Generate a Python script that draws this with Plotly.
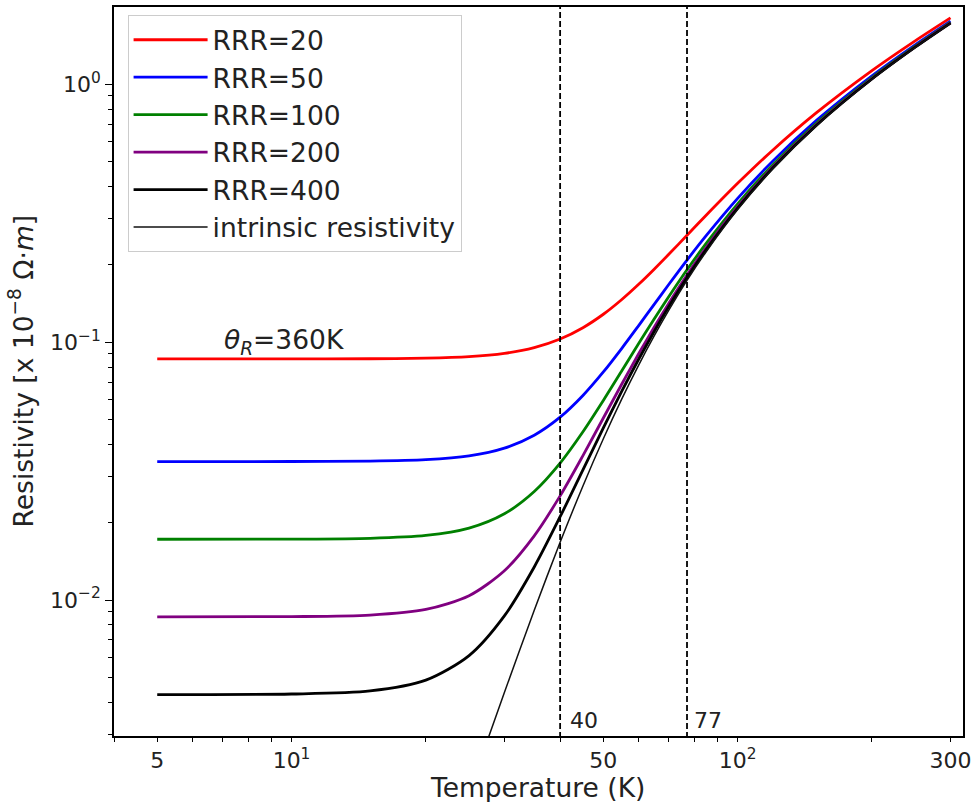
import numpy as np
import plotly.graph_objects as go

# ---------------- data ----------------
temperature = [5, 10, 15, 20, 25, 30, 35, 40, 45, 50, 55, 60, 65, 70, 77, 85,
               100, 120, 150, 200, 250, 300]

rho_rrr20 = [0.08600, 0.08602, 0.08614, 0.08659, 0.08779, 0.09038, 0.09513, 0.10273,
             0.11367, 0.12816, 0.14618, 0.16743, 0.1916, 0.2183, 0.2594, 0.3100,
             0.4122, 0.5555, 0.7731, 1.1281, 1.4714, 1.8060]
rho_rrr50 = [0.03440, 0.03442, 0.03454, 0.03499, 0.03619, 0.03878, 0.04353, 0.05113,
             0.06207, 0.07656, 0.09458, 0.11583, 0.1400, 0.1667, 0.2078, 0.2584,
             0.3606, 0.5039, 0.7215, 1.0765, 1.4198, 1.7544]
rho_rrr100 = [0.01720, 0.01722, 0.01734, 0.01779, 0.01899, 0.02158, 0.02633, 0.03393,
              0.04487, 0.05936, 0.07738, 0.09863, 0.1228, 0.1495, 0.1906, 0.2412,
              0.3434, 0.4867, 0.7043, 1.0593, 1.4026, 1.7372]
rho_rrr200 = [0.00860, 0.00862, 0.00874, 0.00919, 0.01039, 0.01298, 0.01773, 0.02533,
              0.03627, 0.05076, 0.06878, 0.09003, 0.1142, 0.1409, 0.1820, 0.2326,
              0.3348, 0.4781, 0.6957, 1.0507, 1.3940, 1.7286]
rho_rrr400 = [0.00430, 0.00432, 0.00444, 0.00489, 0.00609, 0.00868, 0.01343, 0.02103,
              0.03197, 0.04646, 0.06448, 0.08573, 0.1099, 0.1366, 0.1777, 0.2283,
              0.3305, 0.4738, 0.6914, 1.0464, 1.3897, 1.7243]
rho_intrinsic = [5.7e-7, 1.84e-5, 1.40e-4, 5.88e-4, 1.79e-3, 4.38e-3, 9.13e-3, 0.01673,
                 0.02767, 0.04216, 0.06018, 0.08143, 0.1056, 0.1323, 0.1734, 0.2240,
                 0.3262, 0.4695, 0.6871, 1.0421, 1.3854, 1.7200]

series_names = ["RRR=20", "RRR=50", "RRR=100", "RRR=200", "RRR=400"]
series_values = [rho_rrr20, rho_rrr50, rho_rrr100, rho_rrr200, rho_rrr400]
series_colors = ["red", "blue", "green", "purple", "black"]

marker_temps = [40, 77]
marker_labels = ["40", "77"]

x_label_vals = [5, 10, 50, 100, 300]
x_label_text = ["5", "10<sup>1</sup>", "50", "10<sup>2</sup>", "300"]
x_major = [10, 100]
x_minor = [4, 6, 7, 8, 9, 20, 30, 40, 60, 70, 80, 90, 200]
y_tickvals = [0.01, 0.1, 1]
y_ticktext = ["10<sup>\u22122</sup>", "10<sup>\u22121</sup>", "10<sup>0</sup>"]
y_minor = [0.003, 0.004, 0.005, 0.006, 0.007, 0.008, 0.009,
           0.02, 0.03, 0.04, 0.05, 0.06, 0.07, 0.08, 0.09,
           0.2, 0.3, 0.4, 0.5, 0.6, 0.7, 0.8, 0.9]

x_lim = [4, 320]
y_lim = [0.00297, 1.99]

FONT = "DejaVu Sans"
FS = 26.5      # labels, legend, theta text
FS_TICK = 22   # tick labels, 40/77 labels
TXT = "#222222"

fig = go.Figure()
for i, (name, vals, col) in enumerate(zip(series_names, series_values, series_colors)):
    fig.add_trace(go.Scatter(x=temperature, y=vals, mode="lines", name=name,
                             line=dict(color=col, width=2.8, shape="spline", smoothing=0.8),
                             legendgroup=f"g{i}"))
fig.add_trace(go.Scatter(x=temperature, y=rho_intrinsic, mode="lines",
                         name="intrinsic resistivity",
                         line=dict(color="#111111", width=1.5, shape="spline", smoothing=0.8),
                         legendgroup="g5"))

for t in marker_temps:
    fig.add_trace(go.Scatter(x=[t, t], y=[1e-4, 100], mode="lines", showlegend=False,
                             line=dict(color="black", width=1.8, dash="6px,3px"),
                             hoverinfo="skip"))

annotations = []
label_pos = [(41.6, 0.00341), (78.9, 0.00341)]
for (tx, ty), lab in zip(label_pos, marker_labels):
    annotations.append(dict(x=np.log10(tx), y=np.log10(ty), xref="x", yref="y",
                            text=lab, showarrow=False, xanchor="left", yanchor="middle",
                            font=dict(family=FONT, size=FS_TICK, color=TXT)))
annotations.append(dict(x=np.log10(7.0), y=np.log10(0.1005), xref="x", yref="y",
                        text="<i>\u03b8</i><sub><i>R</i></sub>=360K", showarrow=False,
                        xanchor="left", yanchor="middle",
                        font=dict(family=FONT, size=FS, color=TXT)))
annotations.append(dict(x=0.499, y=-0.071, xref="paper", yref="paper",
                        text="Temperature (K)", showarrow=False,
                        xanchor="center", yanchor="middle",
                        font=dict(family=FONT, size=FS, color=TXT)))
annotations.append(dict(x=-0.109, y=0.5007, xref="paper", yref="paper",
                        text="Resistivity [x 10<sup>\u22128</sup> \u03a9\u00b7<i>m</i>]",
                        textangle=-90, showarrow=False,
                        xanchor="center", yanchor="middle",
                        font=dict(family=FONT, size=FS, color=TXT)))

x_range = [np.log10(x_lim[0]), np.log10(x_lim[1])]
y_range = [np.log10(y_lim[0]), np.log10(y_lim[1])]

fig.update_layout(
    width=977, height=802,
    margin=dict(l=114, r=14, t=5, b=66),
    paper_bgcolor="white", plot_bgcolor="white",
    font=dict(family=FONT, size=FS, color=TXT),
    showlegend=True,
    legend=dict(x=0.016, y=0.989, xanchor="left", yanchor="top",
                bgcolor="rgba(255,255,255,0.8)", bordercolor="#cccccc", borderwidth=1,
                font=dict(family=FONT, size=FS, color=TXT),
                tracegroupgap=0, itemwidth=74),
    annotations=annotations,
    xaxis=dict(type="log", range=x_range,
               tickmode="array", tickvals=x_label_vals, ticktext=x_label_text,
               ticks="outside", ticklen=4, tickwidth=1, tickcolor="black",
               minor=dict(tickmode="array", tickvals=x_minor, ticks="outside",
                          ticklen=4, tickwidth=1, tickcolor="black", showgrid=False),
               showline=True, mirror=True, linecolor="black", linewidth=1.6,
               showgrid=False, zeroline=False,
               tickfont=dict(family=FONT, size=FS_TICK, color=TXT)),
    xaxis2=dict(type="log", range=x_range, overlaying="x", anchor="y", side="bottom",
                tickmode="array", tickvals=x_major, showticklabels=False,
                ticks="outside", ticklen=7, tickwidth=1.3, tickcolor="black",
                showline=False, showgrid=False, zeroline=False),
    yaxis=dict(type="log", range=y_range,
               tickmode="array", tickvals=y_tickvals, ticktext=y_ticktext,
               ticks="outside", ticklen=7, tickwidth=1.3, tickcolor="black",
               minor=dict(tickmode="array", tickvals=y_minor, ticks="outside",
                          ticklen=4, tickwidth=1, tickcolor="black", showgrid=False),
               showline=True, mirror=True, linecolor="black", linewidth=1.6,
               showgrid=False, zeroline=False,
               tickfont=dict(family=FONT, size=FS_TICK, color=TXT)),
)

fig.write_html("out.html")
